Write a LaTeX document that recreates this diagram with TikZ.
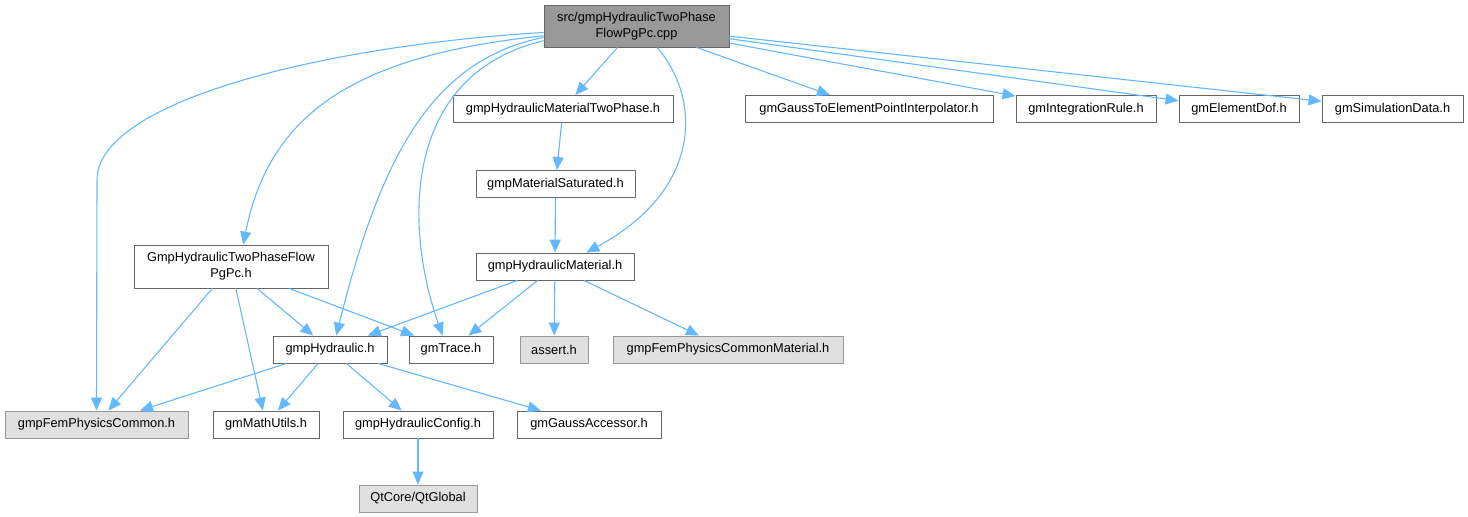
\documentclass[tikz,border=0pt]{standalone}
\usepackage{fontspec}
\setmainfont{Liberation Sans}
\usetikzlibrary{arrows.meta}
\definecolor{edgeblue}{HTML}{63B8FF}
\definecolor{boxline}{HTML}{666666}
\definecolor{sysline}{HTML}{999999}
\definecolor{sysfill}{HTML}{E0E0E0}
\definecolor{rootfill}{HTML}{999999}
\tikzset{
    filebox/.style={draw=boxline, fill=white, line width=0.9pt, inner sep=0pt,
        minimum height=27pt, align=center, font=\fontsize{12.8}{16}\selectfont},
    sysbox/.style={filebox, draw=sysline, fill=sysfill},
    rootbox/.style={filebox, fill=rootfill, minimum height=42pt},
    edge/.style={draw=edgeblue, line width=1.1pt, -{Triangle[length=13pt,width=11pt]}}
}
\begin{document}
\begin{tikzpicture}[x=1pt, y=-1pt]
    \useasboundingbox (0,0) rectangle (1468,517);

    % Nodos
    \node[rootbox, minimum width=185pt] (root) at (636.5,26) {src/gmpHydraulicTwoPhase\\FlowPgPc.cpp};
    \node[filebox, minimum width=220pt] (twophase) at (563,109) {gmpHydraulicMaterialTwoPhase.h};
    \node[filebox, minimum width=248pt] (gausselem) at (869,109) {gmGaussToElementPointInterpolator.h};
    \node[filebox, minimum width=140pt] (intrule) at (1086,109) {gmIntegrationRule.h};
    \node[filebox, minimum width=120pt] (elemdof) at (1239,109) {gmElementDof.h};
    \node[filebox, minimum width=141pt] (simdata) at (1392.5,109) {gmSimulationData.h};
    \node[filebox, minimum width=159pt] (matsat) at (555.5,184) {gmpMaterialSaturated.h};
    \node[filebox, minimum width=158pt] (hydmat) at (555,266.5) {gmpHydraulicMaterial.h};
    \node[filebox, minimum width=194pt, minimum height=43pt] (flowpgpc) at (231,266.5) {GmpHydraulicTwoPhaseFlow\\PgPc.h};
    \node[filebox, minimum width=114pt] (hyd) at (330,349.5) {gmpHydraulic.h};
    \node[filebox, minimum width=84pt] (trace) at (451,349.5) {gmTrace.h};
    \node[sysbox, minimum width=68pt] (assert) at (554,349.5) {assert.h};
    \node[sysbox, minimum width=230pt] (femmat) at (728,349.5) {gmpFemPhysicsCommonMaterial.h};
    \node[sysbox, minimum width=183pt] (femcommon) at (96.5,424.5) {gmpFemPhysicsCommon.h};
    \node[filebox, minimum width=106pt] (mathutils) at (266,424.5) {gmMathUtils.h};
    \node[filebox, minimum width=150pt] (hydconfig) at (418,424.5) {gmpHydraulicConfig.h};
    \node[filebox, minimum width=144pt] (gaussacc) at (589,424.5) {gmGaussAccessor.h};
    \node[sysbox, minimum width=118pt] (qtglobal) at (418,498.5) {QtCore/QtGlobal};

    % Curvas que salen del fichero principal
    \draw[edge] (root.184) .. controls (330,45) and (97,100) .. (97,180) -- (femcommon.north);
    \draw[edge] (root.186) .. controls (360,55) and (270,110) .. (flowpgpc.61);
    \draw[edge] (root.187) .. controls (430,60) and (380,160) .. (hyd.66);
    \draw[edge] (root.189) .. controls (400,75) and (405,230) .. (trace.121);
    \draw[edge] (root.-46) .. controls (702,100) and (702,190) .. (hydmat.24);

    % Aristas rectas
    \draw[edge] (root) -- (twophase);
    \draw[edge] (root) -- (gausselem);
    \draw[edge] (root) -- (intrule);
    \draw[edge] (root) -- (elemdof);
    \draw[edge] (root) -- (simdata);
    \draw[edge] (twophase) -- (matsat);
    \draw[edge] (matsat) -- (hydmat);
    \draw[edge] (hydmat) -- (hyd);
    \draw[edge] (hydmat) -- (trace);
    \draw[edge] (hydmat) -- (assert);
    \draw[edge] (hydmat) -- (femmat);
    \draw[edge] (flowpgpc) -- (femcommon);
    \draw[edge] (flowpgpc) -- (mathutils);
    \draw[edge] (flowpgpc) -- (hyd);
    \draw[edge] (flowpgpc) -- (trace);
    \draw[edge] (hyd) -- (femcommon);
    \draw[edge] (hyd) -- (mathutils);
    \draw[edge] (hyd) -- (hydconfig);
    \draw[edge] (hyd) -- (gaussacc);
    \draw[edge] (hydconfig) -- (qtglobal);
\end{tikzpicture}
\end{document}
